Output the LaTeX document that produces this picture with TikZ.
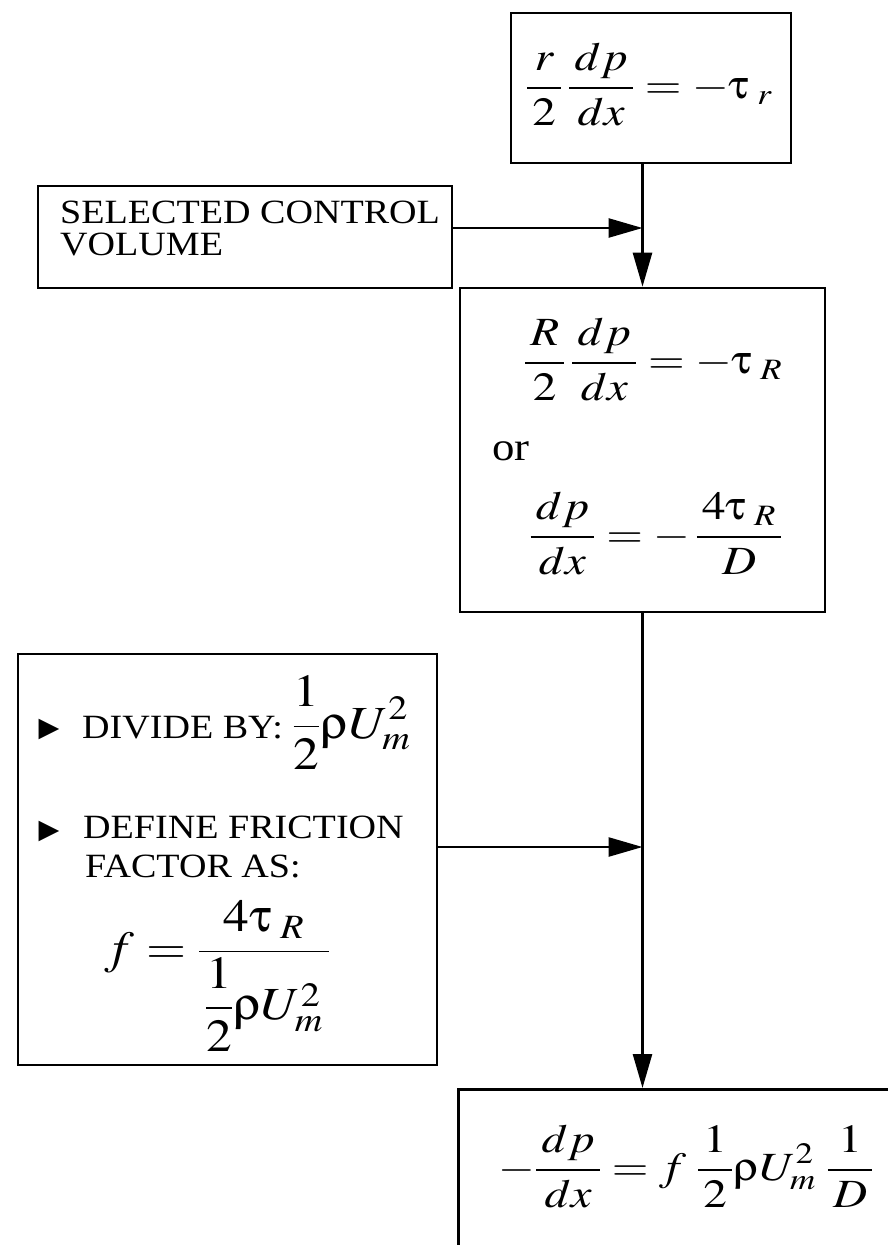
\documentclass[tikz,border=0pt]{standalone}
\usepackage{amsmath}
\usepackage{mathptmx}
\usepackage[Symbol]{upgreek}
\usepackage[no-math]{fontspec}
\setmainfont{Liberation Serif}
\newfontfamily\symbfont{DejaVu Sans}
\usepackage{graphicx}
\usepackage{tikz}
\usetikzlibrary{arrows.meta}

\newcommand{\hwide}[1]{\scalebox{1.12}[1]{#1}}
\newcommand{\mwide}[1]{\scalebox{1.18}[1]{#1}}
\newcommand{\pfrac}[2]{\frac{\mkern2mu#1\mkern2mu}{\mkern2mu#2\mkern2mu}}
\tikzset{
  box/.style={draw, line width=2.6pt, inner sep=0pt},
  txt/.style={inner sep=0pt, font=\fontsize{34}{35}\selectfont},
  eqn/.style={inner sep=0pt, font=\fontsize{40}{44}\selectfont},
  bigeqn/.style={inner sep=0pt, font=\fontsize{46}{50}\selectfont},
  tick/.style={inner sep=0pt, font=\symbfont\fontsize{27}{27}\selectfont},
  flow/.style={line width=2.6pt, -{Triangle[length=34pt,width=19pt]}}
}

\begin{document}
\begin{tikzpicture}[x=1pt, y=-1pt]
\useasboundingbox (0,0) rectangle (888,1245);
% boxes
\node[box, minimum width=280pt, minimum height=150pt] (shell) at (651,88) {};
\node[box, minimum width=414pt, minimum height=102pt] (cv) at (245,237) {};
\node[box, minimum width=365pt, minimum height=324pt] (mom) at (642.5,450) {};
\node[box, minimum width=419pt, minimum height=411pt] (fric) at (227.5,859.5) {};
\node[box, anchor=north west, minimum width=480pt, minimum height=220pt] (res) at (457,1088) {};
% contents
\node[eqn, anchor=base] (shelleq) at (649,98)
  {\mwide{$\displaystyle \pfrac{r}{2}\,\pfrac{dp}{dx} = -\uptau_{\;r}$}};
\node[txt, anchor=base west] (cvtop) at (60,223) {\hwide{SELECTED CONTROL}};
\node[txt, anchor=base west] (cvbot) at (60,255) {\hwide{VOLUME}};
\node[eqn, anchor=base] (momeq) at (653,373)
  {\mwide{$\displaystyle \pfrac{R}{2}\,\pfrac{dp}{dx} = -\uptau_{\;R}$}};
\node[eqn, anchor=base west] (orword) at (492,460) {\hwide{or}};
\node[eqn, anchor=base] (momeqb) at (656,547)
  {\mwide{$\displaystyle \pfrac{dp}{dx} = -\,\pfrac{4\uptau_{\;R}}{D}$}};
\node[tick] (tick1) at (49,729) {▶};
\node[txt, anchor=base west] (divby) at (82,738)
  {\hwide{DIVIDE BY: {\fontsize{46}{50}\selectfont$\displaystyle\frac{1}{2}\uprho U_m^2$}}};
\node[tick] (tick2) at (49,831) {▶};
\node[txt, anchor=base west] (deftop) at (83,838) {\hwide{DEFINE FRICTION}};
\node[txt, anchor=base west] (defbot) at (85,877) {\hwide{FACTOR AS:}};
\node[bigeqn, anchor=base west] (fdef) at (105,963)
  {\hwide{$\displaystyle f = \pfrac{4\uptau_{\;R}}{\dfrac{1}{2}\uprho U_m^2}$}};
\node[eqn, anchor=base] (reseq) at (686,1180)
  {\mwide{$\displaystyle -\pfrac{dp}{dx} = f\;\pfrac{1}{2}\uprho U_m^2\;\pfrac{1}{D}$}};
% connectors
\draw[flow] (mom.north |- shell.south) -- (mom.north);
\draw[flow] ([yshift=9pt]cv.east) -- ([yshift=9pt]cv.east -| mom.north);
\draw[flow] (mom.south) -- (mom.south |- res.north);
\draw[flow] ([yshift=12.5pt]fric.east) -- ([yshift=12.5pt]fric.east -| mom.south);
\end{tikzpicture}
\end{document}
